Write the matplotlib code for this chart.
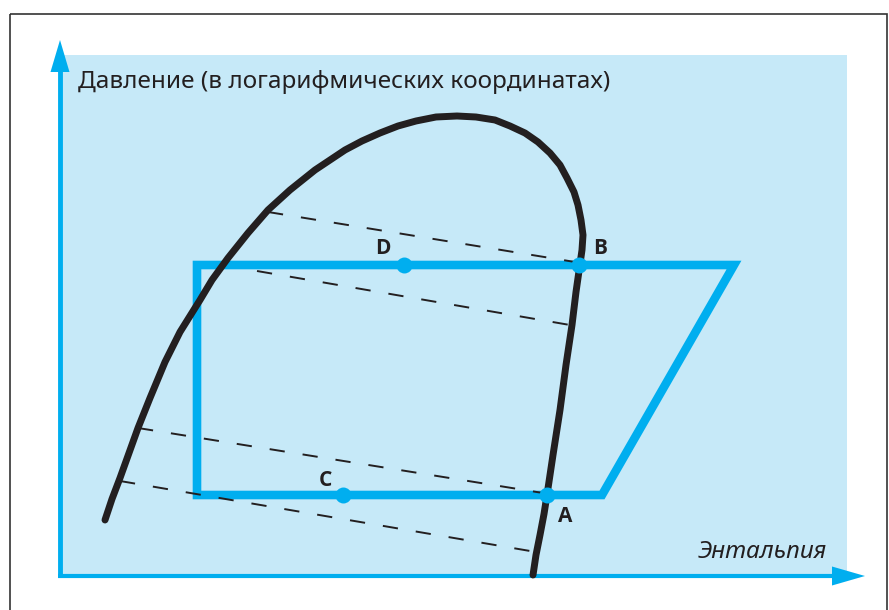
import matplotlib
matplotlib.use("Agg")
import matplotlib.pyplot as plt
from matplotlib.patches import Rectangle, Polygon

plt.rcParams['font.family'] = ['Noto Sans', 'DejaVu Sans']
plt.rcParams['lines.scale_dashes'] = False

# saturation curve (image units, y grows downwards)
curve_x = [105, 112, 120, 129, 138, 150, 165, 180, 200, 212, 228, 248, 268, 290, 315, 345,
           362, 380, 398, 416, 436, 457, 476, 495, 510, 525, 538, 550, 560, 567, 574, 578,
           581, 583, 582, 580, 576, 572, 566, 560, 553, 547, 544, 540, 536, 533]
curve_y = [520, 499, 478, 453, 428, 398, 362, 332, 300, 280, 258, 233, 210, 190, 170, 150,
           141, 133, 126, 121, 117, 116, 117, 120, 126, 133, 142, 153, 165, 178, 192, 205,
           220, 235, 250, 264, 292, 325, 365, 410, 455, 495, 514, 535, 555, 575]

# refrigeration cycle
cycle_x = [197, 734, 602, 197]
cycle_y = [265, 265, 495, 495]

# state points
point_names = ["D", "B", "C", "A"]
point_x = [404, 579, 343, 547]
point_y = [265, 265, 495, 495]
label_x = [383, 600, 325, 565]
label_y = [248, 248, 481, 517]

# dashed lines between the branches
dash_x0 = [268, 257, 138, 120]
dash_y0 = [212, 271, 428, 481]
dash_x1 = [575, 570, 543, 536]
dash_y1 = [262, 325, 493, 552]

blue = '#00aeef'
panel = '#c6e9f8'
ink = '#231f20'

fig = plt.figure(figsize=(8.89, 6.10), dpi=100)
ax = fig.add_axes([0, 0, 1, 1])
ax.set_xlim(0, 889)
ax.set_ylim(610, 0)
ax.axis('off')

# frame and background panel
ax.add_patch(Rectangle((10, 14), 877, 620, fill=False, edgecolor='#333333', lw=1.2))
ax.add_patch(Rectangle((60, 55), 787, 521, facecolor=panel, edgecolor='none'))

# axes with arrows
ax.plot([60, 60], [577, 68], color=blue, lw=3.5, solid_capstyle='butt')
ax.add_patch(Polygon([[60, 40], [50.5, 72], [69.5, 72]], closed=True, color=blue, lw=0))
ax.plot([58, 836], [576, 576], color=blue, lw=3, solid_capstyle='butt')
ax.add_patch(Polygon([[865, 576], [832, 566.5], [832, 585.5]], closed=True, color=blue, lw=0))

for x0, y0, x1, y1 in zip(dash_x0, dash_y0, dash_x1, dash_y1):
    ax.plot([x0, x1], [y0, y1], color=ink, lw=1.4, dashes=(11, 13))

ax.plot(curve_x, curve_y, color=ink, lw=5, solid_capstyle='round', solid_joinstyle='round')

ax.add_patch(Polygon(list(zip(cycle_x, cycle_y)), closed=True, fill=False,
                     edgecolor=blue, lw=6.2, joinstyle='miter'))
ax.plot(point_x, point_y, 'o', color=blue, ms=11.5, mew=0)

for name, x, y in zip(point_names, label_x, label_y):
    ax.text(x, y, name, fontsize=15, fontweight='bold', family=['Open Sans', 'DejaVu Sans'],
            color=ink, ha='center', va='center')

ax.text(78, 88, "Давление (в логарифмических координатах)", fontsize=17.5, color=ink,
        ha='left', va='baseline')
ax.text(827, 558, "Энтальпия", fontsize=17.5, style='italic', color=ink,
        ha='right', va='baseline')

plt.savefig('out.png', dpi=100)
